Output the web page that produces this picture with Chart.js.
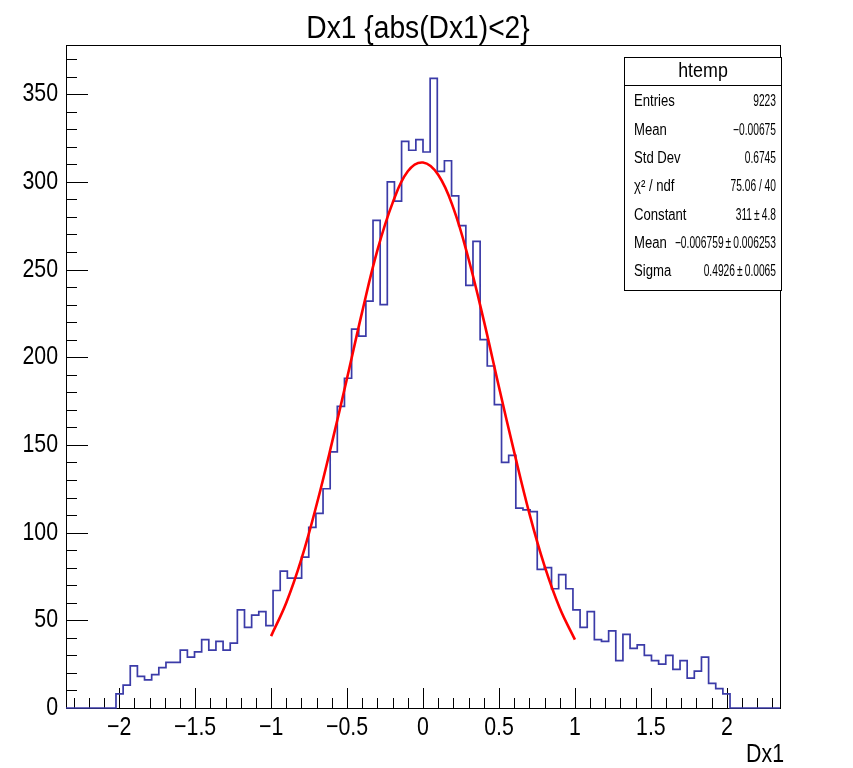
<!DOCTYPE html>
<html>
<head>
<meta charset="utf-8">
<script src="https://cdn.jsdelivr.net/npm/chart.js@4.4.1/dist/chart.umd.min.js"></script>
<style>
  html, body { margin: 0; padding: 0; background: #fff; }
</style>
</head>
<body>
<canvas id="histChart" width="853" height="768"></canvas>
<script>
// Dx1 histogram, 100 bins between xMin and xMax
const xMin = -2.35;
const xMax = 2.35;
const yMax = 378;
const binCounts = [
  0, 0, 0, 0, 0, 0, 0,
  8, 13, 24, 18, 16, 19, 23, 26, 26, 33, 29, 32, 39, 33, 38, 33, 37, 56,
  46, 53, 55, 47, 67, 78, 74, 74, 86, 103, 111, 125, 146, 172, 188, 216,
  212, 232, 278, 230, 300, 289, 323, 318, 324, 317, 359, 306, 312, 292, 275, 241, 266, 210, 195, 173,
  140, 144, 114, 113, 112, 79, 80, 68, 76, 68, 56, 46, 55, 39,
  38, 44, 27, 42, 34, 36, 30, 27, 25, 30, 22, 27, 17, 21, 29, 14, 11, 8,
  0, 0, 0, 0, 0, 0, 0
];
// red gaus fit
const fitX = [-1, -0.9, -0.8, -0.7, -0.6, -0.5, -0.4, -0.3, -0.2, -0.1, 0, 0.1, 0.2, 0.3, 0.4, 0.5, 0.6, 0.7, 0.8, 0.9, 1];
const fitY = [41, 60, 85, 116, 151, 188, 226, 261, 288, 306, 311, 304, 285, 256, 221, 183, 146, 111, 81, 57, 39];
const xTickLabels = [-2, -1.5, -1, -0.5, 0, 0.5, 1, 1.5, 2];
const yTickLabels = [0, 50, 100, 150, 200, 250, 300, 350];
const statNames = ['Entries', 'Mean', 'Std Dev', 'χ² / ndf', 'Constant', 'Mean', 'Sigma'];
const statValues = ['9223', '\u22120.00675', '0.6745', '75.06 / 40', '311\u2009±\u20094.8', '\u22120.006759\u2009±\u20090.006253', '0.4926\u2009±\u20090.0065'];

const FONT = '"Liberation Sans", Arial, sans-serif';

const binWidth = (xMax - xMin) / binCounts.length;
const histPoints = binCounts.map((c, i) => ({ x: xMin + i * binWidth, y: c }));
histPoints.push({ x: xMax, y: binCounts[binCounts.length - 1] });
const fitPoints = fitX.map((v, i) => ({ x: v, y: fitY[i] }));

// ROOT text looks squeezed sideways, so draw it narrowed
function narrowText(ctx, text, x, y, size, align, sx) {
  ctx.save();
  ctx.translate(x, y);
  ctx.scale(sx, 1);
  ctx.font = size + 'px ' + FONT;
  ctx.textAlign = align;
  ctx.textBaseline = 'middle';
  ctx.fillText(text, 0, 0);
  ctx.restore();
}

function fmtTick(v) {
  return v < 0 ? '\u2212' + String(-v) : String(v);
}

// frame + inward ticks, ROOT style
const rootFrame = {
  id: 'rootFrame',
  beforeDatasetsDraw(chart) {
    const { ctx, chartArea: a, scales: { x, y } } = chart;
    ctx.save();
    ctx.strokeStyle = '#000';
    ctx.lineWidth = 1;
    ctx.beginPath();
    for (let k = -23; k <= 23; k++) {
      const px = Math.round(x.getPixelForValue(k / 10)) + 0.5;
      const len = (k % 5 === 0) ? 20 : 10;
      ctx.moveTo(px, a.bottom);
      ctx.lineTo(px, a.bottom - len);
    }
    for (let v = 0; v < yMax; v += 10) {
      const py = Math.round(y.getPixelForValue(v)) + 0.5;
      const len = (v % 50 === 0) ? 22 : 11;
      ctx.moveTo(a.left, py);
      ctx.lineTo(a.left + len, py);
    }
    ctx.stroke();
    ctx.strokeRect(a.left + 0.5, a.top + 0.5, a.right - a.left, a.bottom - a.top);
    ctx.restore();
  },
  afterDraw(chart) {
    const { ctx, chartArea: a, scales: { x, y } } = chart;
    ctx.save();
    ctx.fillStyle = '#000';

    narrowText(ctx, 'Dx1 {abs(Dx1)<2}', 418, 29, 31, 'center', 0.91);

    xTickLabels.forEach(v => {
      narrowText(ctx, fmtTick(v), x.getPixelForValue(v), a.bottom + 20, 26, 'center', 0.82);
    });
    yTickLabels.forEach(v => {
      narrowText(ctx, fmtTick(v), a.left - 8, y.getPixelForValue(v), 26, 'right', 0.82);
    });
    narrowText(ctx, 'Dx1', a.right + 4, 755, 26, 'right', 0.82);

    // stats box
    const bl = 624.5, br = 781.5, bt = 57.5, bh = 85.5, bb = 290.5;
    ctx.fillStyle = '#fff';
    ctx.fillRect(bl, bt, br - bl, bb - bt);
    ctx.strokeStyle = '#000';
    ctx.lineWidth = 1;
    ctx.strokeRect(bl, bt, br - bl, bb - bt);
    ctx.beginPath();
    ctx.moveTo(bl, bh);
    ctx.lineTo(br, bh);
    ctx.stroke();
    ctx.fillStyle = '#000';
    narrowText(ctx, 'htemp', (bl + br) / 2, 71, 21, 'center', 0.85);
    statNames.forEach((name, i) => {
      const ty = 102 + i * 28.3;
      narrowText(ctx, name, 634, ty, 16, 'left', 0.82);
      narrowText(ctx, statValues[i], 776, ty, 16, 'right', 0.64);
    });
    ctx.restore();
  }
};

const ctx = document.getElementById('histChart').getContext('2d');
new Chart(ctx, {
  type: 'line',
  data: {
    datasets: [
      {
        label: 'fit',
        data: fitPoints,
        borderColor: '#ff0000',
        borderWidth: 2.6,
        pointRadius: 0,
        tension: 0.4,
        fill: false,
        order: 0
      },
      {
        label: 'htemp',
        data: histPoints,
        stepped: true,
        borderColor: '#3b3ba8',
        borderWidth: 1.7,
        pointRadius: 0,
        fill: false,
        clip: 4,
        order: 1
      }
    ]
  },
  plugins: [rootFrame],
  options: {
    responsive: false,
    animation: false,
    events: [],
    layout: { padding: { left: 0, right: 73, top: 45, bottom: 0 } },
    plugins: {
      legend: { display: false },
      tooltip: { enabled: false }
    },
    scales: {
      x: {
        type: 'linear',
        min: xMin,
        max: xMax,
        grid: { display: false, drawTicks: false },
        border: { display: false },
        afterBuildTicks: s => { s.ticks = xTickLabels.map(v => ({ value: v })); },
        afterFit: s => { s.height = 60; },
        ticks: { display: false }
      },
      y: {
        min: 0,
        max: yMax,
        grid: { display: false, drawTicks: false },
        border: { display: false },
        afterBuildTicks: s => { s.ticks = yTickLabels.map(v => ({ value: v })); },
        afterFit: s => { s.width = 66; },
        ticks: { display: false }
      }
    }
  }
});
</script>
</body>
</html>
